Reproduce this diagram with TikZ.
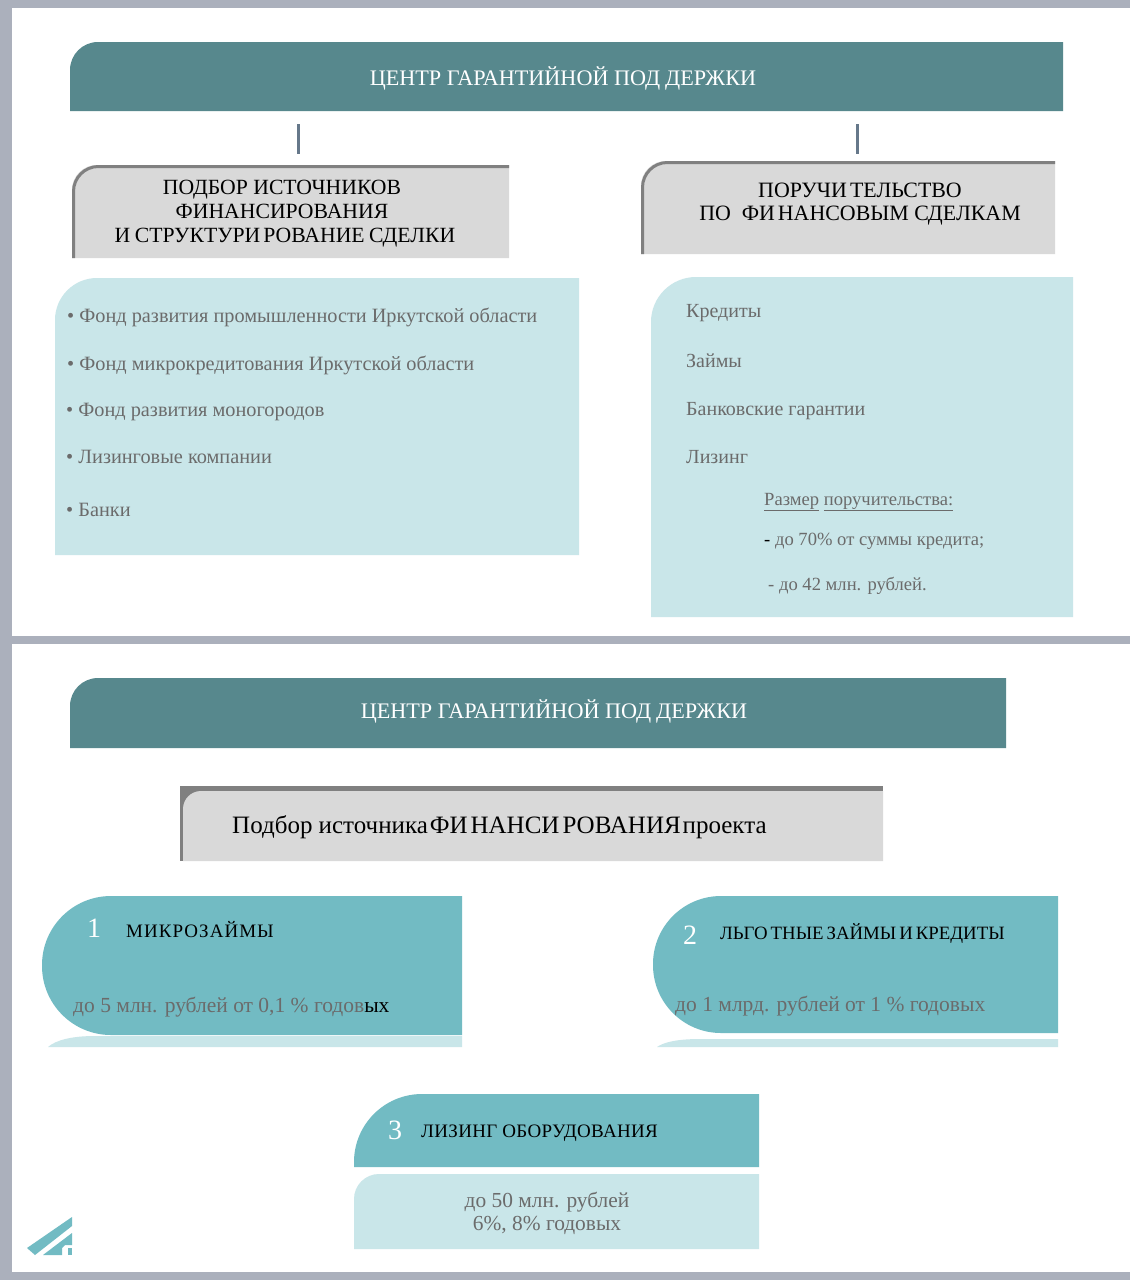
\documentclass[tikz,border=0pt]{standalone}
\usepackage{fontspec}
\setmainfont{Liberation Serif}
\newcommand{\gp}{\kern3pt}

\definecolor{frm}{HTML}{ABB0BC}
\definecolor{hdr}{HTML}{57888D}
\definecolor{gbx}{HTML}{D9D9D9}
\definecolor{gln}{HTML}{808080}
\definecolor{lbx}{HTML}{C9E6E9}
\definecolor{mbx}{HTML}{72BBC3}
\definecolor{txg}{HTML}{6B6B6B}
\definecolor{bar}{HTML}{66788A}

\begin{document}
\begin{tikzpicture}[
  x=1pt, y=-1pt,
  hd/.style={text=white, font=\fontsize{22.2}{26}\selectfont},
  ttl/.style={text=black, align=center, font=\fontsize{21.7}{24}\selectfont},
  itm/.style={anchor=base west, text=txg, inner sep=0pt, font=\fontsize{20}{24}\selectfont},
  lst/.style={itm, font=\fontsize{20.3}{24}\selectfont},
  sml/.style={anchor=base west, text=txg, inner sep=0pt, font=\fontsize{18.6}{22}\selectfont},
  dsc/.style={itm, font=\fontsize{21.5}{24}\selectfont},
  capt/.style={anchor=base west, text=black, inner sep=0pt, font=\fontsize{19}{22}\selectfont},
  num/.style={anchor=base west, text=white, inner sep=0pt, font=\fontsize{28}{30}\selectfont},
  edg/.style={draw=gln, line width=3pt},
  connbar/.style={draw=bar, line width=3pt},
]

\fill [frm] (0,0) rectangle (1130,1280);
\fill [white] (12,8) rectangle (1130,636);
\fill [white] (12,644) rectangle (1130,1272);

\begin{scope}
	\fill [hdr] (70,111) [rounded corners=28] -- (70,42) [sharp corners] -- (1063,42) -- (1063,111) -- cycle;
	\node (title1) [hd] at (563,78) {ЦЕНТР ГАРАНТИЙНОЙ ПОД\kern5pt ДЕРЖКИ};

	\coordinate (bara) at (298,124);
	\coordinate (barb) at (298,154);
	\coordinate (barc) at (857,124);
	\coordinate (bard) at (857,154);
	\draw [connbar] (bara) -- (barb);
	\draw [connbar] (barc) -- (bard);

	\fill [gbx] (72,258) [rounded corners=25] -- (72,165) [sharp corners] -- (509,165) -- (509,258) -- cycle;
	\draw [edg] (73.5,258) [rounded corners=25] -- (73.5,166.5) [sharp corners] -- (509,166.5);
	\node (sel) [ttl] at (282,214) {ПОДБОР ИСТОЧНИКОВ\\ФИНАНСИРОВАНИЯ\\\kern6pt\spaceskip=4.5pt И СТРУКТУРИ\gp РОВАНИЕ СДЕЛКИ};

	\fill [gbx] (641,254) [rounded corners=25] -- (641,161) [sharp corners] -- (1055,161) -- (1055,254) -- cycle;
	\draw [edg] (642.5,254) [rounded corners=25] -- (642.5,162.5) [sharp corners] -- (1055,162.5);
	\node (gar) [ttl, font=\fontsize{21.9}{23}\selectfont] at (860,204) {ПОРУЧИ\gp ТЕЛЬСТВО\\ПО \ ФИ\gp НАНСОВЫМ СДЕЛКАМ};

	\fill [lbx] (55,555) [rounded corners=42] -- (55,278) [sharp corners] -- (579,278) -- (579,555) -- cycle;
	\node (fa) [lst] at (67,322) {• Фонд развития промышленности Иркутской области};
	\node (fb) [lst] at (67,370) {• Фонд микрокредитования Иркутской области};
	\node (fc) [lst] at (66,416.5) {• Фонд развития моногородов};
	\node (fd) [lst] at (66,463.5) {• Лизинговые компании};
	\node (fe) [lst] at (66,516) {• Банки};

	\fill [lbx] (651,617) [rounded corners=45] -- (651,277) [sharp corners] -- (1073,277) -- (1073,617) -- cycle;
	\node (ga) [itm] at (686,317) {Кредиты};
	\node (gb) [itm] at (686,367) {Займы};
	\node (gc) [itm] at (686,415) {Банковские гарантии};
	\node (gd) [itm] at (686,463) {Лизинг};
	\node (ge) [sml] at (764,505) {\underline{Размер} \underline{поручительства:}};
	\node (gf) [sml] at (764,545) {{\color{black}-} до 70\% от суммы кредита;};
	\node (gg) [sml] at (768,590) {- до 42 млн. рублей.};
\end{scope}

\begin{scope}
	\fill [hdr] (70,748) [rounded corners=28] -- (70,678) [sharp corners] -- (1006,678) -- (1006,748) -- cycle;
	\node (title2) [hd] at (554,711) {ЦЕНТР ГАРАНТИЙНОЙ ПОД\kern5pt ДЕРЖКИ};

	\fill [gln] (180,786) rectangle (883,861);
	\fill [gbx] (183,861) [rounded corners=18] -- (183,791) [sharp corners] -- (883,791) -- (883,861) -- cycle;
	\node (src) [anchor=base west, inner sep=0pt, text=black, font=\fontsize{25}{28}\selectfont] at (232,833) {Подбор {\spaceskip=2pt источника ФИ\gp НАНСИ\gp РОВАНИЯ проекта}};

	\fill [lbx] (48,1047) .. controls (56,1040) and (72,1036) .. (95,1036) -- (462,1036) -- (462,1047) -- cycle;
	\fill [mbx] (462,1035) [rounded corners=69] -- (42,1035) -- (42,896) [sharp corners] -- (462,896) -- cycle;
	\node (n1) [num] at (87,937) {1};
	\node (c1) [capt] at (126,937) {\addfontfeature{LetterSpace=5.5}МИКРОЗАЙМЫ};
	\node (d1) [dsc] at (73,1012) {до 5 млн. рублей от 0,1 \% годов{\color{black}ых}};

	\fill [lbx] (657,1047) .. controls (664,1042) and (678,1039) .. (700,1039) -- (1058,1039) -- (1058,1047) -- cycle;
	\fill [mbx] (1058,1033) [rounded corners=68] -- (653,1033) -- (653,896) [sharp corners] -- (1058,896) -- cycle;
	\node (n2) [num] at (683,944) {2};
	\node (c2) [capt, font=\fontsize{18.8}{22}\selectfont] at (720,939) {\spaceskip=3pt ЛЬГО\gp ТНЫЕ ЗАЙМЫ И КРЕДИТЫ};
	\node (d2) [dsc] at (675,1011) {до 1 млрд. рублей от 1 \% годовых};

	\fill [mbx] (354,1167) [rounded corners=68] -- (354,1094) [sharp corners] -- (759,1094) -- (759,1167) -- cycle;
	\node (n3) [num] at (388,1139) {3};
	\node (c3) [capt] at (421,1137) {\addfontfeature{LetterSpace=1.7}ЛИЗИНГ ОБОРУДОВАНИЯ};

	\fill [lbx] (354,1249) [rounded corners=25] -- (354,1174) [sharp corners] -- (759,1174) -- (759,1249) -- cycle;
	\node (d3) [text=txg, align=center, font=\fontsize{21.4}{23}\selectfont] at (547,1213) {до 50 млн. рублей\\6\%, 8\% годовых};

	\fill [mbx] (27,1248) -- (72,1217) -- (72,1226) -- (35,1255) -- cycle;
	\fill [mbx] (43,1255) -- (72,1233) -- (72,1245) -- (65,1245) -- (62,1248) -- (62,1255) -- cycle;
	\fill [mbx] (68,1248) rectangle (72,1255);
\end{scope}

\end{tikzpicture}
\end{document}
